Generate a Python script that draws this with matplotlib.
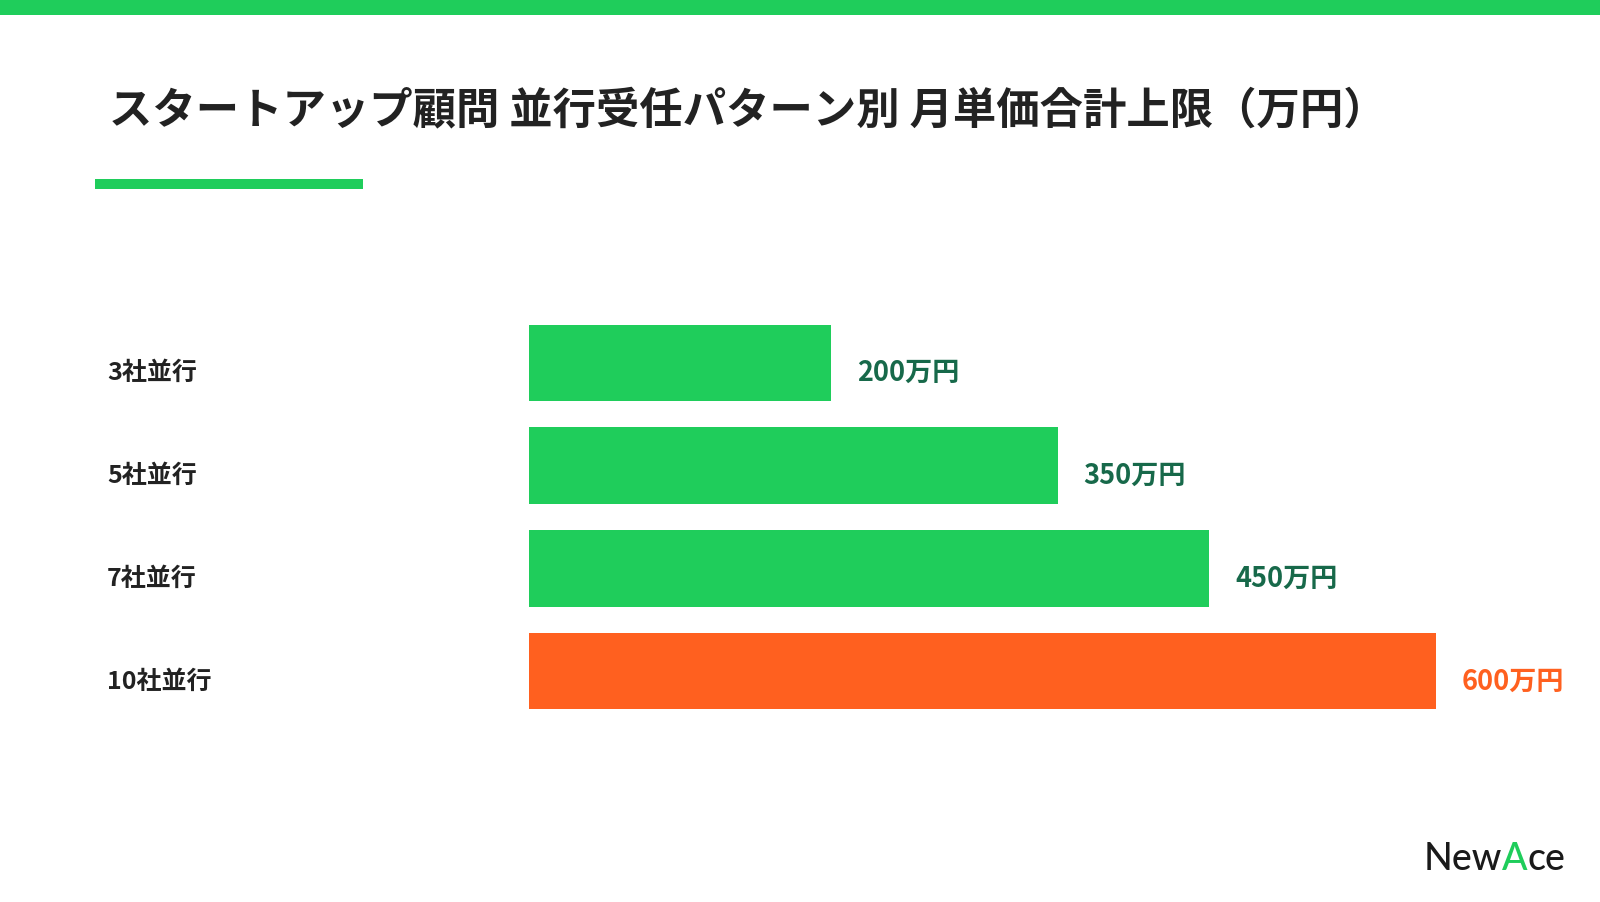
import matplotlib
matplotlib.use('Agg')
import matplotlib.pyplot as plt
from matplotlib.patches import Rectangle
import matplotlib.transforms as mtransforms

plt.rcParams['font.family'] = ['Noto Sans CJK JP', 'DejaVu Sans']

# data
categories = ['3社並行', '5社並行', '7社並行', '10社並行']
values = [200, 350, 450, 600]
value_labels = ['200万円', '350万円', '450万円', '600万円']
highlight = [False, False, False, True]

title = 'スタートアップ顧問 並行受任パターン別 月単価合計上限（万円）'

GREEN = '#1fcd5b'
ORANGE = '#ff601f'
DARK_GREEN = '#17694a'
TEXT = '#222222'

W, H = 1600, 903
fig = plt.figure(figsize=(W / 100, H / 100), dpi=100)
fig.patch.set_facecolor('white')

# top band + accent line under title (figure pixels -> fractions)
fig.add_artist(Rectangle((0, 1 - 15.5 / H), 1, 15.5 / H, transform=fig.transFigure,
                         fc=GREEN, ec='none'))
fig.add_artist(Rectangle((95 / W, 1 - 190 / H), 268 / W, 10 / H, transform=fig.transFigure,
                         fc=GREEN, ec='none'))

fig.text(109 / W, 1 - 110 / H, title, fontsize=31.2, fontweight='bold', color=TEXT,
         ha='left', va='center')

# bar axes
x0, x1 = 528.7, 1435.6
top, bot = 312.2, 723.8
ax = fig.add_axes([x0 / W, 1 - bot / H, (x1 - x0) / W, (bot - top) / H])
ax.set_xlim(0, max(values))
ax.set_ylim(len(categories) - 0.5, -0.5)
ax.axis('off')

ypos = list(range(len(categories)))
colors = [ORANGE if h else GREEN for h in highlight]
ax.barh(ypos, values, height=0.74, color=colors, edgecolor='none')

lab_trans = mtransforms.blended_transform_factory(fig.transFigure, ax.transData)
off = mtransforms.ScaledTranslation(26 / 100, 0, fig.dpi_scale_trans)
for y, v, cat, lab, h in zip(ypos, values, categories, value_labels, highlight):
    ax.text(107 / W, y + 0.09, cat, transform=lab_trans, fontsize=18, fontweight='bold',
            color=TEXT, ha='left', va='center')
    ax.text(v, y + 0.09, lab, transform=ax.transData + off, fontsize=19.5, fontweight='bold',
            color=ORANGE if h else DARK_GREEN, ha='left', va='center')

# logo
lx, ly = 1424 / W, 1 - 860 / H
t1 = fig.text(lx, ly, 'New', fontsize=27, color='#1a1a1a', family='Lato',
              fontweight='medium', ha='left', va='center')
fig.canvas.draw()
bb = t1.get_window_extent()
t2 = fig.text(bb.x1 / W, ly, 'A', fontsize=27, color=GREEN, family='Lato',
              fontweight='medium', ha='left', va='center')
fig.canvas.draw()
bb2 = t2.get_window_extent()
fig.text(bb2.x1 / W, ly, 'ce', fontsize=27, color='#1a1a1a', family='Lato',
         fontweight='medium', ha='left', va='center')

fig.savefig('out.png', dpi=100, facecolor='white')
